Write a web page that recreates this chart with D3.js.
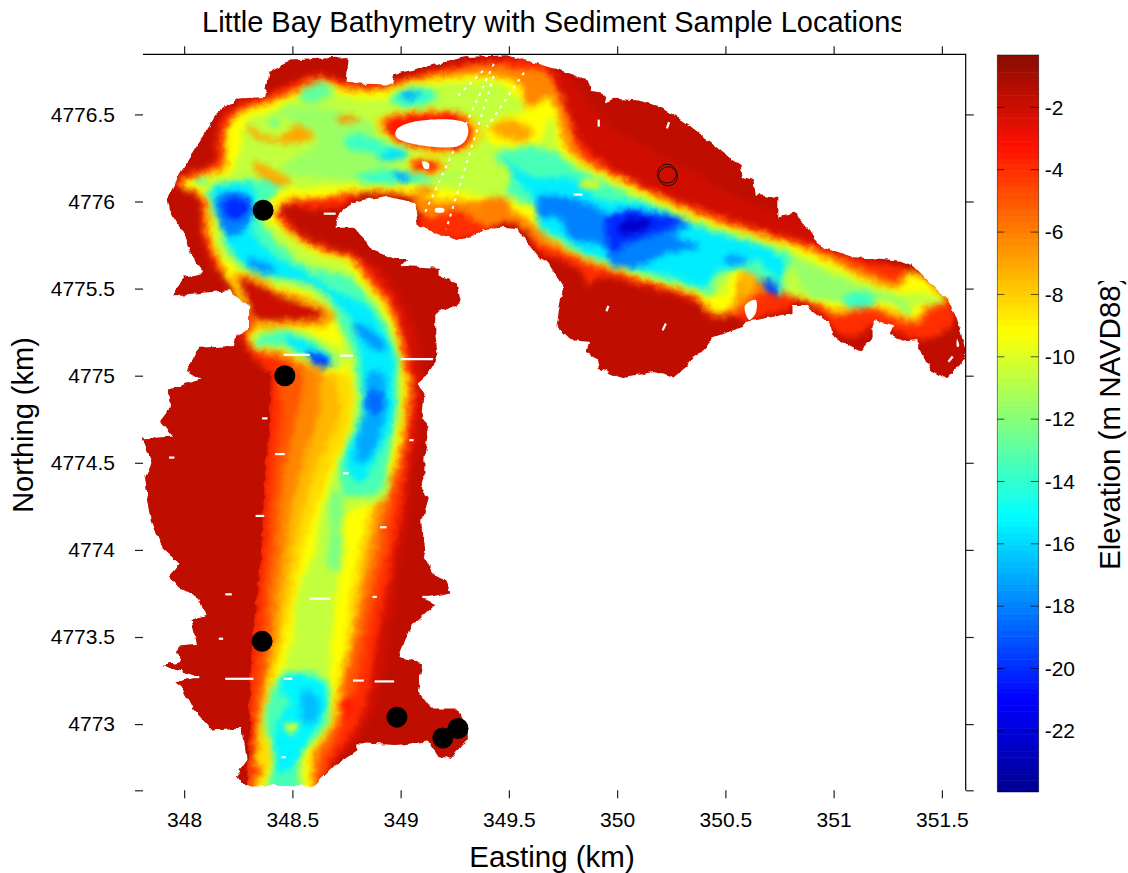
<!DOCTYPE html>
<html>
<head>
<meta charset="utf-8">
<title>Little Bay Bathymetry</title>
<script src="https://cdn.jsdelivr.net/npm/d3@7"></script>
<style>
    html, body { margin: 0; background: #fff; }
    svg { display: block; }
    text { font-family: "Liberation Sans", Arial, sans-serif; fill: #000; }
</style>
</head>
<body>
<script>
// all map values are [easting km, northing km]
const xTicks = [348, 348.5, 349, 349.5, 350, 350.5, 351, 351.5];
const yTicks = [4772.62, 4773, 4773.5, 4774, 4774.5, 4775, 4775.5, 4776, 4776.5];
const barTicks = [-2, -4, -6, -8, -10, -12, -14, -16, -18, -20, -22];
const elevationRange = [-23.95, -0.32];
const jetStops = ["#00008f", "#0000ff", "#00ffff", "#ffff00", "#ff1000", "#8a0c00"];
const jetPositions = [0, 0.125, 0.375, 0.625, 0.875, 1];

const samples = [[348.365, 4775.95], [348.465, 4775.0], [348.36, 4773.475], [348.983, 4773.04], [349.195, 4772.92], [349.265, 4772.975]];
const openSamples = [[350.23, 4776.16], [350.235, 4776.145]];

const shoreline = [[348.49,4776.81],[348.76,4776.83],[348.75,4776.68],[348.96,4776.67],[348.97,4776.73],[349.07,4776.76],[349.30,4776.83],[349.49,4776.84],[349.58,4776.81],[349.64,4776.79],[349.76,4776.745],[349.86,4776.70],[349.88,4776.63],[349.93,4776.62],[349.95,4776.57],[349.99,4776.59],[350.10,4776.58],[350.21,4776.54],[350.34,4776.43],[350.41,4776.36],[350.50,4776.27],[350.57,4776.21],[350.58,4776.14],[350.63,4776.12],[350.64,4776.04],[350.74,4776.02],[350.74,4775.91],[350.82,4775.93],[350.87,4775.87],[350.91,4775.79],[350.95,4775.74],[351.09,4775.68],[351.23,4775.67],[351.31,4775.66],[351.37,4775.63],[351.52,4775.44],[351.56,4775.36],[351.59,4775.24],[351.61,4775.14],[351.59,4775.07],[351.52,4774.98],[351.45,4775.03],[351.42,4775.10],[351.38,4775.21],[351.32,4775.20],[351.26,4775.24],[351.28,4775.29],[351.21,4775.31],[351.18,4775.32],[351.18,4775.22],[351.12,4775.14],[351.03,4775.20],[350.99,4775.24],[350.98,4775.30],[350.875,4775.40],[350.81,4775.40],[350.81,4775.36],[350.60,4775.31],[350.58,4775.28],[350.44,4775.22],[350.40,4775.14],[350.36,4775.12],[350.32,4775.05],[350.26,4774.99],[350.17,4775.02],[350.01,4774.99],[349.92,4775.04],[349.91,4775.10],[349.86,4775.13],[349.87,4775.20],[349.78,4775.21],[349.72,4775.28],[349.75,4775.51],[349.68,4775.65],[349.64,4775.68],[349.54,4775.84],[349.47,4775.85],[349.38,4775.84],[349.30,4775.78],[349.23,4775.79],[349.14,4775.83],[349.08,4775.86],[349.07,4775.94],[349.07,4775.99],[348.935,4776.03],[348.80,4776.005],[348.72,4775.94],[348.70,4775.885],[348.70,4775.85],[348.78,4775.85],[348.84,4775.77],[348.87,4775.72],[348.97,4775.67],[349.03,4775.67],[349.0,4775.63],[349.18,4775.62],[349.18,4775.57],[349.26,4775.53],[349.28,4775.42],[349.16,4775.35],[349.16,4775.24],[349.17,4775.13],[349.16,4775.08],[349.12,4775.0],[349.08,4774.955],[349.11,4774.89],[349.10,4774.76],[349.13,4774.70],[349.11,4774.53],[349.11,4774.43],[349.09,4774.36],[349.13,4774.30],[349.10,4774.17],[349.11,4773.96],[349.15,4773.86],[349.21,4773.83],[349.23,4773.75],[349.11,4773.72],[349.16,4773.69],[349.045,4773.56],[348.99,4773.38],[349.10,4773.35],[349.08,4773.19],[349.14,4773.09],[349.25,4773.09],[349.31,4772.99],[349.31,4772.91],[349.23,4772.80],[349.17,4772.82],[349.13,4772.90],[348.98,4772.88],[348.80,4772.89],[348.80,4772.85],[348.69,4772.755],[348.60,4772.64],[348.27,4772.65],[348.24,4772.70],[348.29,4772.79],[348.27,4772.975],[348.13,4772.965],[348.04,4773.09],[347.99,4773.21],[347.96,4773.24],[348.07,4773.27],[347.90,4773.34],[347.98,4773.36],[347.97,4773.45],[348.06,4773.46],[348.03,4773.59],[348.10,4773.62],[348.07,4773.72],[347.98,4773.78],[347.93,4773.85],[347.98,4773.92],[347.90,4774.01],[347.85,4774.17],[347.83,4774.32],[347.82,4774.42],[347.85,4774.50],[347.81,4774.64],[347.95,4774.65],[347.89,4774.74],[347.94,4774.82],[347.93,4774.92],[348.08,4774.98],[348.01,4775.03],[348.065,4775.16],[348.23,4775.17],[348.24,4775.23],[348.30,4775.27],[348.30,4775.40],[348.21,4775.49],[347.95,4775.46],[348.0,4775.57],[348.09,4775.59],[348.03,4775.70],[347.99,4775.83],[347.93,4775.95],[347.92,4776.01],[347.98,4776.16],[348.06,4776.32],[348.15,4776.50],[348.24,4776.59],[348.37,4776.60],[348.39,4776.74]];

// flat west shoal stops at a hard survey edge
const westFlat = [[347.7,4775.02],[348.40,4775.02],[348.395,4774.78],[348.375,4774.5],[348.365,4774.21],[348.355,4774],[348.335,4773.73],[348.315,4773.5],[348.305,4773.25],[348.30,4773],[348.29,4772.62],[347.7,4772.62]];

const holes = [
    [[348.98,4776.41],[349.07,4776.46],[349.30,4776.45],[349.31,4776.38],[349.27,4776.32],[349.06,4776.33],[348.98,4776.37]],
    [[349.10,4776.23],[349.13,4776.22],[349.13,4776.19],[349.11,4776.19]],
    [[349.16,4775.96],[349.20,4775.96],[349.20,4775.94],[349.16,4775.94]],
    [[350.59,4775.40],[350.64,4775.435],[350.64,4775.36],[350.61,4775.32]],
    [[351.57,4775.21],[351.58,4775.17],[351.57,4775.165]]
];

const whiteStreaks = [[348.36,4774.755,348.385,4774.755],[348.42,4774.55,348.465,4774.55],[347.93,4774.53,347.955,4774.53],[348.33,4774.195,348.37,4774.195],[348.905,4774.13,348.935,4774.13],[348.735,4774.44,348.76,4774.44],[349.04,4774.63,349.06,4774.63],[348.58,4773.72,348.675,4773.72],[348.19,4773.745,348.22,4773.745],[348.87,4773.73,348.89,4773.73],[349.10,4773.73,349.15,4773.73],[348.19,4773.26,348.32,4773.26],[348.78,4773.25,348.83,4773.25],[348.88,4773.245,348.97,4773.245],[348.46,4773.26,348.50,4773.26],[347.98,4773.27,348.07,4773.27],[348.16,4773.49,348.18,4773.49],[348.45,4772.81,348.47,4772.81],[349.0,4775.095,349.15,4775.095],[348.46,4775.12,348.58,4775.12],[348.72,4775.115,348.78,4775.115],[348.645,4775.93,348.70,4775.93],[349.915,4776.47,349.915,4776.43],[350.24,4776.455,350.23,4776.42],[349.96,4775.40,349.95,4775.37],[350.225,4775.30,350.21,4775.26],[349.80,4776.04,349.84,4776.04],[351.53,4775.08,351.55,4775.11]];
const dottedTracks = [[349.43,4776.79,349.11,4775.93],[349.43,4776.72,349.21,4775.84],[349.57,4776.74,349.40,4776.43],[349.38,4776.75,349.26,4776.60]];

// depth bands, painted deep over shallow
const ring2 = [[349.50,4776.84],[349.75,4776.74],[349.95,4776.45],[350.3,4776.2],[350.6,4776.0],[350.9,4775.85],[351.0,4775.7],[349.9,4775.9],[349.6,4776.3]];
const ring2b = [[348.43,4775.95],[348.5,4775.87],[348.7,4775.72],[348.9,4775.62],[349.0,4775.45],[349.08,4775.2],[349.1,4774.8],[349.06,4774.5],[349.03,4774.2],[349.0,4774],[348.97,4773.73],[348.94,4773.5],[348.91,4773.25],[348.84,4773.0],[348.72,4772.81],[348.6,4772.8],[348.6,4774],[348.6,4775.5]];
const ring4 = [[347.96,4776.09],[348.0,4776.16],[348.09,4776.19],[348.15,4776.24],[348.15,4776.35],[348.18,4776.49],[348.27,4776.57],[348.38,4776.61],[348.52,4776.69],[348.63,4776.73],[348.75,4776.69],[348.95,4776.69],[349.07,4776.73],[349.27,4776.79],[349.41,4776.81],[349.57,4776.81],[349.67,4776.79],[349.75,4776.60],[349.84,4776.33],[350.10,4776.105],[350.41,4775.95],[350.72,4775.82],[350.875,4775.77],[351.03,4775.70],[351.18,4775.65],[351.33,4775.61],[351.53,4775.43],[351.56,4775.34],[351.50,4775.24],[351.40,4775.21],[351.26,4775.26],[351.18,4775.30],[351.15,4775.26],[351.09,4775.22],[351.0,4775.26],[350.94,4775.36],[350.83,4775.42],[350.78,4775.38],[350.64,4775.33],[350.60,4775.31],[350.55,4775.34],[350.43,4775.34],[350.37,4775.42],[350.10,4775.52],[349.92,4775.57],[349.87,4775.51],[349.84,4775.59],[349.73,4775.67],[349.64,4775.71],[349.57,4775.86],[349.46,4775.87],[349.34,4775.80],[349.23,4775.78],[349.14,4775.80],[349.09,4775.86],[349.09,4775.97],[348.935,4776.06],[348.80,4776.03],[348.72,4775.97],[348.58,4775.96],[348.50,4775.98],[348.43,4775.95],[348.47,4775.91],[348.53,4775.80],[348.66,4775.74],[348.80,4775.68],[348.90,4775.55],[348.98,4775.40],[349.03,4775.17],[349.06,4775.0],[349.06,4774.78],[349.03,4774.5],[349.0,4774.21],[348.97,4774.0],[348.93,4773.73],[348.89,4773.5],[348.86,4773.25],[348.80,4773.0],[348.70,4772.81],[348.60,4772.6],[348.28,4772.6],[348.30,4772.81],[348.30,4773.0],[348.30,4773.25],[348.31,4773.5],[348.33,4773.73],[348.35,4774.0],[348.36,4774.21],[348.37,4774.50],[348.39,4774.78],[348.40,4774.92],[348.40,4775.01],[348.33,4775.09],[348.27,4775.21],[348.26,4775.40],[348.21,4775.56],[348.15,4775.61],[348.09,4775.78],[348.06,4776.03]];
const south5 = [[348.45,4775.02],[348.45,4774.78],[348.42,4774.5],[348.40,4774.21],[348.39,4774],[348.37,4773.73],[348.36,4773.5],[348.33,4773.25],[348.32,4773],[348.32,4772.6],[348.60,4772.6],[348.66,4772.81],[348.73,4773],[348.80,4773.25],[348.84,4773.5],[348.88,4773.73],[348.93,4774],[348.96,4774.21],[349.01,4774.5],[349.045,4774.78],[349.045,4775.02]];
const ring6 = [[347.98,4776.115],[348.09,4776.17],[348.17,4776.22],[348.18,4776.35],[348.22,4776.48],[348.30,4776.55],[348.41,4776.59],[348.53,4776.66],[348.63,4776.71],[348.75,4776.66],[348.94,4776.66],[349.03,4776.70],[349.27,4776.76],[349.43,4776.78],[349.57,4776.76],[349.67,4776.74],[349.73,4776.62],[349.79,4776.41],[349.83,4776.28],[350.10,4776.09],[350.41,4775.93],[350.72,4775.80],[350.875,4775.75],[351.03,4775.67],[351.18,4775.59],[351.28,4775.55],[351.34,4775.60],[351.40,4775.59],[351.53,4775.42],[351.44,4775.38],[351.40,4775.30],[351.34,4775.30],[351.25,4775.34],[351.15,4775.38],[351.0,4775.34],[350.95,4775.40],[350.84,4775.44],[350.66,4775.47],[350.58,4775.38],[350.47,4775.34],[350.41,4775.38],[350.36,4775.45],[350.10,4775.55],[349.89,4775.63],[349.73,4775.71],[349.64,4775.76],[349.52,4775.88],[349.40,4775.86],[349.26,4775.95],[349.15,4775.91],[349.07,4775.95],[349.06,4776.01],[348.935,4776.04],[348.83,4776.04],[348.72,4776.03],[348.60,4776.01],[348.47,4775.99],[348.43,4775.93],[348.49,4775.84],[348.63,4775.74],[348.77,4775.68],[348.87,4775.53],[348.95,4775.42],[349.0,4775.21],[349.03,4775.01],[349.03,4774.78],[348.99,4774.5],[348.92,4774.21],[348.89,4774.0],[348.84,4773.73],[348.80,4773.5],[348.75,4773.25],[348.71,4773.0],[348.62,4772.81],[348.59,4772.6],[348.35,4772.6],[348.35,4772.81],[348.34,4773.0],[348.37,4773.25],[348.40,4773.5],[348.40,4773.73],[348.43,4774.0],[348.44,4774.21],[348.47,4774.5],[348.52,4774.78],[348.55,4774.98],[348.53,4775.04],[348.41,4775.11],[348.32,4775.15],[348.29,4775.24],[348.32,4775.30],[348.23,4775.47],[348.16,4775.63],[348.10,4775.80],[348.07,4776.03],[347.98,4776.09]];
const south7 = [[348.65,4775.03],[348.62,4774.78],[348.55,4774.5],[348.49,4774.21],[348.47,4774],[348.44,4773.73],[348.42,4773.5],[348.38,4773.25],[348.35,4773],[348.35,4772.6],[348.58,4772.6],[348.60,4772.81],[348.69,4773],[348.73,4773.25],[348.78,4773.5],[348.81,4773.73],[348.86,4774],[348.89,4774.21],[348.985,4774.5],[349.02,4774.78],[349.02,4775.03]];
const south8 = [[348.71,4775.03],[348.72,4774.78],[348.62,4774.5],[348.545,4774.21],[348.51,4774],[348.47,4773.73],[348.44,4773.5],[348.39,4773.25],[348.35,4773],[348.36,4772.6],[348.575,4772.6],[348.59,4772.81],[348.68,4773],[348.72,4773.25],[348.77,4773.5],[348.79,4773.73],[348.835,4774],[348.87,4774.21],[348.98,4774.5],[349.015,4774.78],[349.015,4775.03]];
const ring9 = [[348.0,4776.115],[348.095,4776.15],[348.19,4776.19],[348.19,4776.35],[348.24,4776.49],[348.32,4776.535],[348.43,4776.58],[348.55,4776.64],[348.63,4776.69],[348.75,4776.64],[348.92,4776.64],[349.03,4776.68],[349.27,4776.72],[349.43,4776.72],[349.55,4776.67],[349.58,4776.545],[349.63,4776.56],[349.68,4776.60],[349.72,4776.53],[349.77,4776.30],[350.10,4776.07],[350.41,4775.90],[350.72,4775.78],[350.875,4775.72],[351.03,4775.63],[351.18,4775.54],[351.31,4775.51],[351.35,4775.59],[351.51,4775.44],[351.43,4775.40],[351.38,4775.33],[351.25,4775.38],[351.14,4775.40],[351.0,4775.38],[350.84,4775.45],[350.69,4775.51],[350.63,4775.59],[350.57,4775.59],[350.55,4775.45],[350.51,4775.38],[350.44,4775.37],[350.38,4775.45],[350.10,4775.56],[349.90,4775.65],[349.73,4775.75],[349.67,4775.80],[349.55,4775.93],[349.34,4776.0],[349.15,4776.01],[349.07,4776.04],[348.92,4776.07],[348.77,4776.06],[348.67,4776.03],[348.47,4776.01],[348.42,4775.93],[348.50,4775.80],[348.66,4775.70],[348.78,4775.65],[348.86,4775.51],[348.95,4775.36],[348.99,4775.21],[349.01,4775.01],[349.005,4774.78],[348.97,4774.5],[348.85,4774.21],[348.81,4774.0],[348.77,4773.73],[348.75,4773.5],[348.71,4773.25],[348.67,4773.0],[348.58,4772.81],[348.57,4772.6],[348.36,4772.6],[348.40,4772.81],[348.36,4773.0],[348.41,4773.25],[348.47,4773.5],[348.505,4773.73],[348.55,4774.0],[348.60,4774.21],[348.69,4774.5],[348.775,4774.78],[348.75,4775.01],[348.66,4775.01],[348.55,4775.08],[348.44,4775.14],[348.33,4775.16],[348.30,4775.22],[348.33,4775.28],[348.26,4775.44],[348.19,4775.59],[348.13,4775.78],[348.095,4776.03],[348.0,4776.09]];
const ring11 = [[348.09,4776.09],[348.095,4776.13],[348.21,4776.16],[348.26,4776.30],[348.29,4776.47],[348.41,4776.52],[348.53,4776.61],[348.63,4776.67],[348.73,4776.61],[348.92,4776.59],[349.01,4776.65],[349.25,4776.68],[349.43,4776.69],[349.50,4776.64],[349.57,4776.53],[349.41,4776.45],[349.40,4776.35],[349.63,4776.33],[349.70,4776.49],[349.73,4776.30],[349.79,4776.24],[350.10,4776.04],[350.41,4775.875],[350.72,4775.76],[350.83,4775.70],[351.0,4775.61],[351.12,4775.55],[351.28,4775.48],[351.46,4775.47],[351.51,4775.42],[351.38,4775.40],[351.34,4775.36],[351.26,4775.42],[351.12,4775.41],[351.0,4775.42],[350.875,4775.45],[350.78,4775.47],[350.75,4775.53],[350.66,4775.61],[350.53,4775.59],[350.50,4775.47],[350.38,4775.49],[350.10,4775.58],[349.87,4775.68],[349.69,4775.80],[349.64,4775.93],[349.55,4775.99],[349.31,4776.05],[349.10,4776.09],[348.87,4776.10],[348.72,4776.09],[348.52,4776.07],[348.41,4776.07],[348.365,4775.93],[348.44,4775.84],[348.60,4775.70],[348.75,4775.64],[348.83,4775.51],[348.92,4775.36],[348.97,4775.21],[348.99,4775.01],[348.99,4774.78],[348.95,4774.5],[348.93,4774.3],[348.75,4774.21],[348.74,4774.0],[348.70,4773.73],[348.68,4773.5],[348.67,4773.25],[348.66,4773.0],[348.55,4772.81],[348.55,4772.6],[348.38,4772.6],[348.41,4772.81],[348.37,4773.0],[348.44,4773.25],[348.50,4773.5],[348.52,4773.73],[348.60,4774.0],[348.63,4774.21],[348.71,4774.5],[348.79,4774.78],[348.77,4775.0],[348.74,4775.12],[348.70,4775.30],[348.57,4775.47],[348.46,4775.51],[348.26,4775.61],[348.165,4775.70],[348.14,4775.86],[348.10,4776.07]];
const pocket11 = [[348.31,4775.18],[348.33,4775.24],[348.44,4775.27],[348.63,4775.22],[348.75,4775.11],[348.70,4775.03],[348.60,4775.07],[348.47,4775.14]];
const pocket14 = [[348.33,4775.18],[348.35,4775.225],[348.46,4775.26],[348.53,4775.235],[348.63,4775.17],[348.70,4775.09],[348.64,4775.05],[348.55,4775.11],[348.46,4775.17]];
const pocket16 = [[348.48,4775.235],[348.565,4775.19],[348.67,4775.11],[348.64,4775.06],[348.565,4775.12],[348.47,4775.20]];
const pocket19 = [[348.565,4775.14],[348.63,4775.12],[348.68,4775.08],[348.635,4775.04],[348.59,4775.08]];
const eastTail12 = [[350.81,4775.68],[350.95,4775.60],[351.12,4775.52],[351.34,4775.41],[351.35,4775.34],[351.26,4775.42],[351.11,4775.44],[350.90,4775.45]];
const eastTail14 = [[351.03,4775.43],[351.12,4775.48],[351.20,4775.43],[351.11,4775.39]];
const reach14 = [[349.43,4776.26],[349.58,4776.32],[349.72,4776.28],[349.79,4776.21],[350.10,4776.02],[350.41,4775.85],[350.69,4775.75],[350.81,4775.68],[350.78,4775.59],[350.75,4775.46],[350.66,4775.55],[350.58,4775.61],[350.47,4775.57],[350.43,4775.46],[350.37,4775.49],[350.10,4775.59],[349.87,4775.68],[349.72,4775.78],[349.64,4775.84],[349.64,4775.95],[349.49,4776.05],[349.52,4776.16],[349.44,4776.24]];
const west14 = [[348.11,4776.03],[348.12,4776.08],[348.30,4776.13],[348.47,4776.105],[348.41,4776.03],[348.36,4775.91],[348.41,4775.80],[348.565,4775.63],[348.75,4775.57],[348.87,4775.42],[348.95,4775.24],[348.99,4775.09],[348.99,4774.96],[348.985,4774.78],[348.94,4774.5],[348.905,4774.33],[348.80,4774.31],[348.735,4774.33],[348.72,4774.5],[348.80,4774.78],[348.80,4775.0],[348.79,4775.1],[348.73,4775.27],[348.66,4775.45],[348.52,4775.55],[348.32,4775.61],[348.20,4775.72],[348.165,4775.86]];
const strand12 = [[348.68,4774.33],[348.73,4774.33],[348.72,4774.1],[348.72,4773.9],[348.67,4773.88],[348.67,4774.1]];
const south14 = [[348.44,4773.27],[348.55,4773.3],[348.66,4773.25],[348.66,4773.0],[348.60,4772.9],[348.53,4772.81],[348.52,4772.6],[348.39,4772.6],[348.42,4772.81],[348.37,4773.0]];
const upper14a = [[348.95,4776.59],[349.03,4776.65],[349.15,4776.64],[349.17,4776.60],[349.12,4776.555],[348.98,4776.555]];
const upper14b = [[348.735,4776.35],[348.81,4776.39],[348.89,4776.35],[348.98,4776.31],[349.04,4776.28],[348.98,4776.235],[348.86,4776.28],[348.77,4776.30]];
const upper14c = [[348.79,4776.14],[348.92,4776.18],[349.04,4776.17],[349.15,4776.12],[349.01,4776.105],[348.84,4776.105]];
const upper13 = [[348.39,4776.46],[348.43,4776.48],[348.44,4776.44],[348.40,4776.43]];
const upper13b = [[348.53,4776.60],[348.63,4776.69],[348.69,4776.63],[348.60,4776.565]];
const upper13c = [[348.05,4776.12],[348.09,4776.14],[348.10,4776.115],[348.07,4776.09]];
const upper12 = [[348.42,4776.52],[348.53,4776.55],[348.78,4776.50],[348.88,4776.42],[348.95,4776.20],[349.3,4776.15],[349.1,4776.12],[348.72,4776.13],[348.45,4776.18],[348.62,4776.36]];
const reach16 = [[349.47,4776.24],[349.61,4776.14],[349.79,4776.13],[349.93,4776.01],[350.05,4775.995],[350.18,4775.965],[350.44,4775.83],[350.69,4775.73],[350.77,4775.65],[350.75,4775.55],[350.65,4775.66],[350.54,4775.62],[350.46,4775.60],[350.40,4775.51],[350.26,4775.57],[350.10,4775.615],[349.87,4775.70],[349.73,4775.80],[349.64,4775.87],[349.61,4776.01],[349.55,4776.11]];
const west16 = [[348.13,4776.04],[348.13,4776.08],[348.30,4776.10],[348.33,4776.03],[348.32,4775.82],[348.44,4775.665],[348.53,4775.61],[348.72,4775.47],[348.84,4775.40],[348.935,4775.225],[348.97,4775.09],[348.965,4774.94],[348.97,4774.78],[348.875,4774.5],[348.81,4774.39],[348.75,4774.5],[348.83,4774.78],[348.82,4775.0],[348.81,4775.15],[348.77,4775.32],[348.70,4775.42],[348.565,4775.53],[348.33,4775.59],[348.24,4775.68],[348.19,4775.80]];
const south16 = [[348.47,4773.29],[348.64,4773.23],[348.65,4773.08],[348.57,4772.91],[348.52,4772.77],[348.44,4772.72],[348.41,4772.87],[348.43,4773.0],[348.49,4773.14],[348.44,4773.19]];
const upper16 = [[348.90,4776.26],[348.98,4776.30],[349.04,4776.28],[348.98,4776.24],[348.92,4776.235]];
const reach18 = [[349.64,4776.03],[349.75,4776.03],[349.90,4775.97],[349.95,4775.93],[350.23,4775.91],[350.34,4775.87],[350.26,4775.81],[350.38,4775.74],[350.23,4775.70],[350.10,4775.63],[349.98,4775.63],[349.93,4775.75],[349.79,4775.78],[349.73,4775.91],[349.64,4775.91]];
const reachPatch18 = [[350.49,4775.67],[350.55,4775.69],[350.61,4775.66],[350.52,4775.64]];
const west18 = [[348.15,4776.03],[348.24,4776.05],[348.32,4775.99],[348.29,4775.86],[348.21,4775.80],[348.165,4775.875]];
const westBlob18 = [[348.29,4775.675],[348.38,4775.645],[348.43,4775.60],[348.33,4775.60]];
const bendBlob18 = [[348.78,4775.30],[348.87,4775.26],[348.935,4775.15],[348.89,4775.15],[348.80,4775.24]];
const south18 = [[348.86,4775.03],[348.92,4775.0],[348.93,4774.84],[348.92,4774.73],[348.86,4774.53],[348.80,4774.50],[348.80,4774.63],[348.83,4774.80]];
const south19 = [[348.85,4774.93],[348.92,4774.88],[348.91,4774.78],[348.85,4774.80]];
const upper17 = [[349.0,4776.62],[349.09,4776.63],[349.06,4776.59],[349.01,4776.59]];
const upper17b = [[348.96,4776.16],[349.01,4776.17],[349.06,4776.13],[349.0,4776.115]];
const south17 = [[348.55,4773.2],[348.62,4773.15],[348.61,4773.02],[348.55,4773.0]];
const reach20 = [[349.95,4775.91],[350.03,4775.95],[350.15,4775.94],[350.31,4775.885],[350.25,4775.85],[350.14,4775.80],[350.04,4775.76],[349.98,4775.70],[349.95,4775.82]];
const west20 = [[348.18,4775.99],[348.26,4776.03],[348.315,4775.97],[348.27,4775.91],[348.21,4775.895]];
const tailDeep19 = [[350.67,4775.54],[350.72,4775.54],[350.75,4775.46],[350.71,4775.47]];
const reach22 = [[350.0,4775.86],[350.04,4775.90],[350.165,4775.885],[350.12,4775.83],[350.04,4775.81]];

// shoals sit above the deep water
const shoalOuter = [[348.22,4775.58],[348.32,4775.58],[348.46,4775.49],[348.60,4775.43],[348.70,4775.35],[348.66,4775.29],[348.47,4775.28],[348.33,4775.28],[348.30,4775.40]];
const shoalInner = [[348.26,4775.56],[348.33,4775.53],[348.46,4775.445],[348.58,4775.40],[348.65,4775.34],[348.49,4775.32],[348.33,4775.33],[348.29,4775.435]];
const bar1 = [[348.70,4776.47],[348.75,4776.50],[348.81,4776.47],[348.75,4776.45]];
const bar2 = [[348.29,4776.44],[348.37,4776.38],[348.44,4776.37],[348.52,4776.44],[348.60,4776.37],[348.55,4776.34],[348.41,4776.34],[348.32,4776.37]];
const bar3 = [[348.32,4776.23],[348.41,4776.18],[348.50,4776.115],[348.44,4776.09],[348.365,4776.14],[348.32,4776.19]];
const islandOuter = [[348.89,4776.47],[348.98,4776.51],[349.18,4776.53],[349.32,4776.49],[349.38,4776.39],[349.34,4776.32],[349.18,4776.27],[349.03,4776.32],[348.935,4776.37]];
const islandInner = [[348.92,4776.46],[348.98,4776.49],[349.18,4776.51],[349.27,4776.50],[349.32,4776.44],[349.32,4776.35],[349.27,4776.30],[349.06,4776.325],[348.98,4776.355],[348.94,4776.40]];
const knollOuter = [[349.03,4776.22],[349.09,4776.26],[349.21,4776.22],[349.18,4776.16],[349.06,4776.17]];
const knollInner = [[349.05,4776.21],[349.105,4776.235],[349.19,4776.20],[349.15,4776.18],[349.07,4776.185]];
const bar4 = [[349.07,4776.07],[349.15,4776.08],[349.16,4776.05],[349.07,4776.05]];
const bar5 = [[349.37,4775.99],[349.44,4776.03],[349.505,4775.99],[349.49,4775.91],[349.38,4775.92]];
const bar6 = [[349.41,4776.42],[349.49,4776.47],[349.60,4776.42],[349.60,4776.35],[349.49,4776.36]];
const bar7 = [[349.83,4776.10],[349.90,4776.12],[349.92,4776.095],[349.83,4776.08]];
const bar8 = [[350.56,4775.58],[350.63,4775.58],[350.62,4775.48],[350.56,4775.45],[350.58,4775.50]];
const spot1 = [[348.73,4773.14],[348.78,4773.14],[348.78,4773.06],[348.74,4773.02]];
const spot2 = [[348.47,4773.0],[348.52,4773.0],[348.51,4772.945],[348.47,4772.96]];
const spot3 = [[348.30,4772.76],[348.36,4772.74],[348.33,4772.70]];

// elevation of each band, in painting order
const depthLayers = [
    [-2.05, ring2], [-2.2, ring2b], [-4, ring4], [-5, south5], [-6.2, ring6], [-7.4, south7], [-8.3, south8], [-9.2, ring9],
    [-10.6, ring11], [-10.6, pocket11], [-11.5, upper12], [-11.6, eastTail12], [-13.4, reach14], [-13.4, west14], [-12.2, strand12],
    [-13.4, south14], [-13.4, pocket14], [-13.8, eastTail14], [-13.8, upper14a], [-13.8, upper14b], [-12.8, upper13], [-12.8, upper13b],
    [-12.8, upper13c], [-13.8, upper14c], [-15.5, reach16], [-15.5, west16], [-15.3, south16], [-15.5, pocket16], [-15.8, upper16],
    [-18, reach18], [-17.5, reachPatch18], [-18, west18], [-17.5, westBlob18], [-17.5, bendBlob18], [-17.1, south18], [-18.5, south19], [-17, upper17],
    [-17, upper17b], [-16.6, south17], [-19.5, pocket19], [-20, reach20], [-20, west20], [-19.5, tailDeep19], [-22.3, reach22],
    [-7, shoalOuter], [-2, shoalInner], [-6.5, bar1], [-7, bar2], [-7, bar3], [-8, islandOuter], [-3.5, islandInner],
    [-8, knollOuter], [-3.5, knollInner], [-6, bar4], [-6, bar5], [-7, bar6], [-9, bar7], [-7.5, bar8], [-3.6, spot1], [-9.5, spot2], [-4, spot3]
];
const landLevel = -1.65;

window.onload = () => {

    const width = 1128;
    const height = 873;
    const plotLeft = 143;
    const plotRight = 965.7;
    const plotTop = 54.3;
    const plotBottom = 790.3;

    const x = d3.scaleLinear().domain([347.81, 351.61]).range([plotLeft, plotRight]);
    const y = d3.scaleLinear().domain([4772.62, 4776.845]).range([plotBottom, plotTop]);

    const color = d3.scaleLinear()
        .domain(jetPositions.map(p => elevationRange[0] + p * (elevationRange[1] - elevationRange[0])))
        .range(jetStops)
        .clamp(true);

    const svg = d3.select("body").append("svg")
        .attr("width", width)
        .attr("height", height)
        .attr("viewBox", `0 0 ${width} ${height}`);

    const defs = svg.append("defs");

    const smoothRing = d3.line().x(d => x(d[0])).y(d => y(d[1])).curve(d3.curveCatmullRomClosed.alpha(0.5));
    const plainRing = d3.line().x(d => x(d[0])).y(d => y(d[1])).curve(d3.curveLinearClosed);

    defs.append("clipPath").attr("id", "bay").append("path").attr("d", plainRing(shoreline));
    defs.append("clipPath").attr("id", "titleClip").append("rect")
        .attr("x", 190).attr("y", 0).attr("width", 711).attr("height", 50);
    defs.append("clipPath").attr("id", "barLabelClip").append("rect")
        .attr("x", 1080).attr("y", 281).attr("width", 48).attr("height", 320);

    const blur = defs.append("filter").attr("id", "soft")
        .attr("filterUnits", "userSpaceOnUse")
        .attr("x", 0).attr("y", 0).attr("width", width).attr("height", height)
        .attr("color-interpolation-filters", "sRGB");
    blur.append("feGaussianBlur").attr("stdDeviation", 3);

    // survey edge is ragged, push the pixels around a little
    const rough = defs.append("filter").attr("id", "rough")
        .attr("filterUnits", "userSpaceOnUse")
        .attr("x", 0).attr("y", 0).attr("width", width).attr("height", height)
        .attr("color-interpolation-filters", "sRGB");
    rough.append("feTurbulence").attr("type", "fractalNoise")
        .attr("baseFrequency", 0.11).attr("numOctaves", 2).attr("seed", 4).attr("result", "noise");
    rough.append("feDisplacementMap").attr("in", "SourceGraphic").attr("in2", "noise")
        .attr("scale", 6).attr("xChannelSelector", "R").attr("yChannelSelector", "G");

    // map
    const clipped = svg.append("g").attr("filter", "url(#rough)")
        .append("g").attr("clip-path", "url(#bay)");

    const bay = clipped.append("g").attr("filter", "url(#soft)");

    bay.append("rect")
        .attr("x", plotLeft - 20).attr("y", plotTop - 20)
        .attr("width", plotRight - plotLeft + 40).attr("height", plotBottom - plotTop + 40)
        .attr("fill", color(landLevel));

    bay.selectAll(".band")
        .data(depthLayers)
        .enter()
        .append("path")
        .attr("class", "band")
        .attr("d", d => smoothRing(d[1]))
        .attr("fill", d => color(d[0]));

    clipped.append("path")
        .attr("d", plainRing(westFlat))
        .attr("fill", color(landLevel));

    svg.append("g").selectAll("path")
        .data(holes)
        .enter()
        .append("path")
        .attr("d", d => smoothRing(d))
        .attr("fill", "#fff");

    svg.append("g").selectAll("line")
        .data(whiteStreaks)
        .enter()
        .append("line")
        .attr("x1", d => x(d[0])).attr("y1", d => y(d[1]))
        .attr("x2", d => x(d[2])).attr("y2", d => y(d[3]))
        .attr("stroke", "#fff")
        .attr("stroke-width", 2.2);

    svg.append("g").selectAll("line")
        .data(dottedTracks)
        .enter()
        .append("line")
        .attr("x1", d => x(d[0])).attr("y1", d => y(d[1]))
        .attr("x2", d => x(d[2])).attr("y2", d => y(d[3]))
        .attr("stroke", "#fff")
        .attr("stroke-width", 2)
        .attr("stroke-dasharray", "3 5");

    // sample locations
    svg.append("g").selectAll("circle")
        .data(samples)
        .enter()
        .append("circle")
        .attr("cx", d => x(d[0]))
        .attr("cy", d => y(d[1]))
        .attr("r", 10.5)
        .attr("fill", "#000");

    svg.append("g").selectAll("circle")
        .data(openSamples)
        .enter()
        .append("circle")
        .attr("cx", d => x(d[0]))
        .attr("cy", d => y(d[1]))
        .attr("r", 9.5)
        .attr("fill", "none")
        .attr("stroke", "#111")
        .attr("stroke-width", 1);

    // axes
    const tickLabel = d => d === yTicks[0] ? "" : d;
    const styleAxis = g => {
        g.selectAll("line").attr("stroke", "#222").attr("stroke-width", 1.2);
        g.selectAll("text").style("font-size", "21px");
    };

    svg.append("g")
        .attr("transform", `translate(0,${plotBottom})`)
        .call(d3.axisBottom(x).tickValues(xTicks).tickSize(8).tickPadding(14).tickFormat(d => d))
        .call(g => g.select(".domain").remove())
        .call(styleAxis);

    svg.append("g")
        .attr("transform", `translate(0,${plotTop})`)
        .call(d3.axisTop(x).tickValues(xTicks).tickSize(8).tickFormat(""))
        .call(g => g.select(".domain").remove())
        .call(styleAxis);

    svg.append("g")
        .attr("transform", `translate(${plotLeft},0)`)
        .call(d3.axisLeft(y).tickValues(yTicks).tickSize(8).tickPadding(20).tickFormat(tickLabel))
        .call(g => g.select(".domain").remove())
        .call(styleAxis);

    svg.append("g")
        .attr("transform", `translate(${plotRight},0)`)
        .call(d3.axisRight(y).tickValues(yTicks).tickSize(8).tickFormat(""))
        .call(g => g.select(".domain").remove())
        .call(styleAxis);

    svg.append("path")
        .attr("d", `M${plotLeft},${plotTop}H${plotRight}V${plotBottom}`)
        .attr("fill", "none")
        .attr("stroke", "#000")
        .attr("stroke-width", 1.2);

    // colorbar
    const barLeft = 997.3;
    const barRight = 1038.7;
    const barY = d3.scaleLinear().domain(elevationRange).range([791.7, 55]);
    const barSteps = d3.range(128);
    const barStep = (elevationRange[1] - elevationRange[0]) / 128;

    svg.append("g").selectAll("rect")
        .data(barSteps)
        .enter()
        .append("rect")
        .attr("x", barLeft)
        .attr("y", d => barY(elevationRange[0] + (d + 1) * barStep))
        .attr("width", barRight - barLeft)
        .attr("height", (barY.range()[0] - barY.range()[1]) / 128 + 0.5)
        .attr("fill", d => color(elevationRange[0] + (d + 0.5) * barStep));

    svg.append("rect")
        .attr("x", barLeft).attr("y", 55)
        .attr("width", barRight - barLeft).attr("height", 736.7)
        .attr("fill", "none")
        .attr("stroke", "#000")
        .attr("stroke-opacity", 0.6)
        .attr("stroke-width", 0.8);

    svg.append("g")
        .attr("transform", `translate(${barRight},0)`)
        .call(d3.axisRight(barY).tickValues(barTicks).tickSize(0).tickPadding(6).tickFormat(d => d))
        .call(g => g.select(".domain").remove())
        .call(styleAxis);

    svg.append("g").selectAll("path")
        .data(barTicks)
        .enter()
        .append("path")
        .attr("d", d => `M${barLeft},${barY(d)}h7M${barRight - 8},${barY(d)}h8`)
        .attr("stroke", "#000")
        .attr("stroke-opacity", 0.65)
        .attr("stroke-width", 1);

    // titles
    svg.append("g").attr("clip-path", "url(#titleClip)")
        .append("text")
        .attr("x", 202)
        .attr("y", 32)
        .style("font-size", "29px")
        .text("Little Bay Bathymetry with Sediment Sample Locations");

    svg.append("text")
        .attr("x", 552)
        .attr("y", 867)
        .attr("text-anchor", "middle")
        .style("font-size", "29.5px")
        .text("Easting (km)");

    svg.append("text")
        .attr("transform", "translate(33,425) rotate(-90)")
        .attr("text-anchor", "middle")
        .style("font-size", "29px")
        .text("Northing (km)");

    svg.append("g").attr("clip-path", "url(#barLabelClip)")
        .append("text")
        .attr("transform", "translate(1120,570) rotate(-90)")
        .style("font-size", "29.5px")
        .text("Elevation (m NAVD88)");
};
</script>
</body>
</html>
